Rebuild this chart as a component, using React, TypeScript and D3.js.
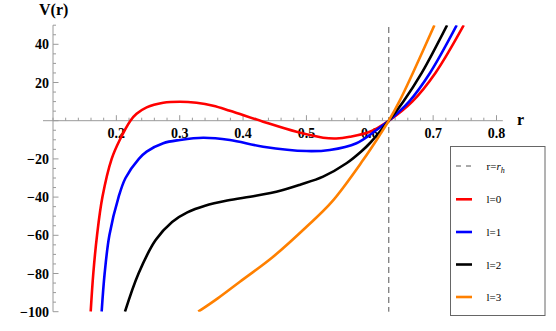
import * as d3 from "d3";

const rH = 0.63;

// l=0 (red)
const r0 = [0.1595, 0.1636, 0.1695, 0.178, 0.1926, 0.2055, 0.2222, 0.2319, 0.2478, 0.274, 0.3003, 0.3266, 0.3528, 0.3792, 0.4317, 0.4844, 0.5263, 0.547, 0.5685, 0.6, 0.63, 0.667, 0.7036, 0.7483];
const v0 = [-100, -80, -60, -40, -20, -10, 0, 3.6, 7.0, 9.4, 9.95, 9.4, 7.85, 5.2, -0.5, -5.8, -8.9, -9.3, -8.4, -5.8, 0, 10, 25, 50];
// l=1 (blue)
const r1 = [0.1768, 0.1815, 0.189, 0.2035, 0.2145, 0.2355, 0.2478, 0.274, 0.3003, 0.337, 0.3792, 0.4317, 0.5002, 0.5369, 0.579, 0.6106, 0.63, 0.662, 0.695, 0.7372];
const v1 = [-100, -80, -60, -40, -30, -20, -16.2, -11.8, -10.1, -8.9, -10.1, -13.6, -15.9, -15.3, -11.8, -4.9, 0, 10, 25, 50];
// l=2 (black)
const r2 = [0.2136, 0.235, 0.262, 0.288, 0.312, 0.34, 0.375, 0.42, 0.46, 0.49, 0.5263, 0.5632, 0.5869, 0.6, 0.63, 0.653, 0.682, 0.722];
const v2 = [-100, -80, -62.5, -53, -48, -44.5, -41.8, -39.3, -36.5, -33.5, -29.3, -22.3, -16, -11.8, 0, 10, 25, 50];
// l=3 (orange)
const r3 = [0.3292, 0.36, 0.395, 0.4475, 0.5002, 0.54, 0.5894, 0.6158, 0.63, 0.6473, 0.668, 0.702];
const v3 = [-100, -93, -84.3, -71.2, -55.5, -42.5, -20.6, -7.5, 0, 10.5, 25, 50];

const seriesNames = ["l=0", "l=1", "l=2", "l=3"];
const seriesColors = ["#ff0000", "#0000ff", "#000000", "#ff8000"];
const seriesR = [r0, r1, r2, r3];
const seriesV = [v0, v1, v2, v3];

const xTicks = [0.2, 0.3, 0.4, 0.5, 0.6, 0.7, 0.8];
const yTicks = [40, 20, -20, -40, -60, -80, -100];

const serif = "'Liberation Serif', 'Times New Roman', serif";

export default function App() {
  const width = 556,
    height = 331;

  const x = d3.scaleLinear().domain([0.1, 0.8]).range([53, 496.5]);
  const y = d3.scaleLinear().domain([-100, 50]).range([311.7, 25.2]);

  const line = d3
    .line<[number, number]>()
    .x((d) => x(d[0]))
    .y((d) => y(d[1]))
    .curve(d3.curveCatmullRom.alpha(0.5));

  const xMinor = d3.range(0.1, 0.8101, 0.02).map((d) => +d.toFixed(2));
  const yMinor = d3.range(-100, 50.01, 5);
  const axisColor = "#9a9a9a";
  const x0 = x(0.1);
  const yZero = y(0);

  const legendY = [166, 199.3, 232, 264.5, 297];

  return (
    <svg
      width={width}
      height={height}
      style={{ position: "absolute", left: 0, top: 0, background: "#fff" }}
    >
      <defs>
        <clipPath id="plot">
          <rect x={x0} y={y(50)} width={x(0.82) - x0} height={y(-100) - y(50)} />
        </clipPath>
      </defs>

      {/* axes */}
      <line x1={43} x2={x(0.81)} y1={yZero} y2={yZero} stroke={axisColor} strokeWidth={1} />
      <line x1={x0} x2={x0} y1={y(50)} y2={y(-100)} stroke={axisColor} strokeWidth={1} />
      {xMinor.map((t, i) => {
        const major = xTicks.some((m) => Math.abs(m - t) < 1e-6);
        return (
          <line key={"xm" + i} x1={x(t)} x2={x(t)} y1={yZero} y2={yZero - (major ? 5.5 : 3)} stroke={axisColor} />
        );
      })}
      {yMinor.map((t, i) => {
        const major = t % 20 === 0;
        return (
          <line key={"ym" + i} x1={x0} x2={x0 + (major ? 5.5 : 3)} y1={y(t)} y2={y(t)} stroke={axisColor} />
        );
      })}
      {xTicks.map((t) => (
        <text key={"xt" + t} x={x(t)} y={yZero + 17} textAnchor="middle" fontFamily={serif} fontWeight="bold" fontSize={14}>
          {t.toFixed(1)}
        </text>
      ))}
      {yTicks.map((t) => (
        <text key={"yt" + t} x={x0 - 4} y={y(t) + 5} textAnchor="end" fontFamily={serif} fontWeight="bold" fontSize={14}>
          {t < 0 ? "\u2212" + Math.abs(t) : t}
        </text>
      ))}
      <text x={39} y={15} fontFamily={serif} fontWeight="bold" fontSize={16}>
        V(r)
      </text>
      <text x={517} y={125} fontFamily={serif} fontWeight="bold" fontSize={16}>
        r
      </text>

      {/* horizon */}
      <line x1={x(rH)} x2={x(rH)} y1={27} y2={y(-100)} stroke="#555" strokeWidth={1} strokeDasharray="6,4" />

      <g clipPath="url(#plot)">
        {seriesR.map((rs, i) => (
          <path
            key={i}
            d={line(rs.map((r, j) => [r, seriesV[i][j]] as [number, number])) || ""}
            fill="none"
            stroke={seriesColors[i]}
            strokeWidth={2.6}
          />
        ))}
      </g>

      {/* legend */}
      <rect x={450.5} y={146.5} width={94.5} height={169} fill="#fff" stroke="#666" strokeWidth={1} />
      <line x1={456} x2={473} y1={legendY[0]} y2={legendY[0]} stroke="#555" strokeDasharray="5,5" />
      <text x={486.5} y={legendY[0] + 4} fontFamily={serif} fontSize={11}>
        r=<tspan fontStyle="italic">r</tspan>
        <tspan fontStyle="italic" fontSize={8} dy={3}>h</tspan>
      </text>
      {seriesNames.map((n, i) => (
        <g key={n}>
          <line x1={456} x2={472} y1={legendY[i + 1]} y2={legendY[i + 1]} stroke={seriesColors[i]} strokeWidth={2.6} />
          <text x={486.5} y={legendY[i + 1] + 4} fontFamily={serif} fontSize={11}>
            {n}
          </text>
        </g>
      ))}
    </svg>
  );
}
